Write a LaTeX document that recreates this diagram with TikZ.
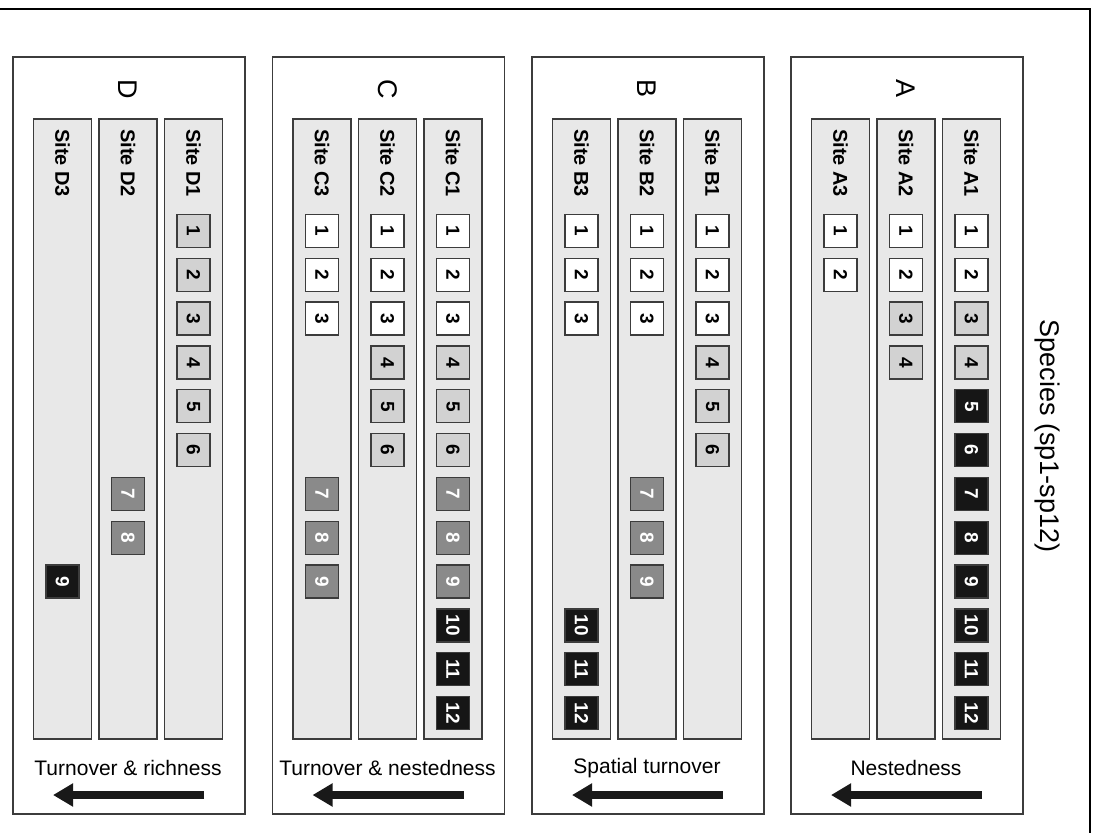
\documentclass[tikz,border=0pt]{standalone}
\usepackage{fontspec}
\setmainfont{Liberation Sans}
\usetikzlibrary{arrows.meta}
\definecolor{colfill}{HTML}{E8E8E8}
\definecolor{edgegray}{HTML}{3C3C3C}
\definecolor{lightsp}{HTML}{D2D2D2}
\definecolor{midsp}{HTML}{8A8A8A}
\definecolor{darksp}{HTML}{161616}
\newcommand\SpCol[3]{%
  \foreach \k/\s in {#3} {
    \node[\s] (#1s\k) at (#2, {231+(\k-1)*43.82}) {\k};
  }%
}
\begin{document}
\begin{tikzpicture}[x=1pt,y=-1pt,
  panelbox/.style={draw=edgegray, line width=1.5pt, fill=white, inner sep=0pt,
    minimum width=232pt, minimum height=757pt, anchor=north west},
  sitecol/.style={draw=edgegray, line width=1.5pt, fill=colfill, inner sep=0pt,
    minimum width=58pt, minimum height=620pt, anchor=north},
  sitelab/.style={rotate=-90, anchor=west, inner sep=0pt, font=\bfseries\fontsize{20}{20}\selectfont},
  panlab/.style={rotate=-90, inner sep=0pt, font=\fontsize{27}{27}\selectfont},
  boxlab/.style={inner sep=0pt, font=\fontsize{21}{21}\selectfont},
  sp/.style={draw=edgegray, line width=1.3pt, minimum size=33pt, inner sep=0pt,
    rotate=-90, font=\bfseries\fontsize{19}{19}\selectfont},
  spw/.style={sp, fill=white, text=black},
  spl/.style={sp, fill=lightsp, text=black},
  spm/.style={sp, fill=midsp, text=white},
  spk/.style={sp, fill=darksp, text=white},
  bigarrow/.style={line width=8pt, draw=black!90, -{Triangle[length=20pt,width=22pt]}}
]
\useasboundingbox (0,0) rectangle (1101,833);
% outer frame (partially visible)
\coordinate (frameTL) at (0,9);
\coordinate (frameTR) at (1090,9);
\coordinate (frameBR) at (1090,833);
\draw[line width=2pt] (frameTL) -- (frameTR) -- (frameBR);

% panels
\foreach \P/\L/\lab in {D/12/{Turnover \& richness}, C/271.5/{Turnover \& nestedness}, B/531/{Spatial turnover}, A/790/{Nestedness}} {
  \node[panelbox] (panel\P) at (\L,56) {};
  \node[panlab] (letter\P) at (\L+116,89) {\P};
  \node[sitecol] (\P3) at (\L+50.5,118) {};
  \node[sitecol] (\P2) at (\L+116,118) {};
  \node[sitecol] (\P1) at (\L+181.5,118) {};
  \node[sitelab] (lab\P3) at (\L+50.5,129) {Site \P3};
  \node[sitelab] (lab\P2) at (\L+116,129) {Site \P2};
  \node[sitelab] (lab\P1) at (\L+181.5,129) {Site \P1};
  \node[boxlab] (trend\P) at (\L+116,768) {\lab};
  \coordinate (tail\P) at (\L+192,795);
  \coordinate (head\P) at (\L+41,795);
  \draw[bigarrow] (tail\P) -- (head\P);
}

% Panel A
\SpCol{A1}{971.5}{1/spw,2/spw,3/spl,4/spl,5/spk,6/spk,7/spk,8/spk,9/spk,10/spk,11/spk,12/spk}
\SpCol{A2}{906}{1/spw,2/spw,3/spl,4/spl}
\SpCol{A3}{840.5}{1/spw,2/spw}
% Panel B
\SpCol{B1}{712.5}{1/spw,2/spw,3/spw,4/spl,5/spl,6/spl}
\SpCol{B2}{647}{1/spw,2/spw,3/spw,7/spm,8/spm,9/spm}
\SpCol{B3}{581.5}{1/spw,2/spw,3/spw,10/spk,11/spk,12/spk}
% Panel C
\SpCol{C1}{453}{1/spw,2/spw,3/spw,4/spl,5/spl,6/spl,7/spm,8/spm,9/spm,10/spk,11/spk,12/spk}
\SpCol{C2}{387.5}{1/spw,2/spw,3/spw,4/spl,5/spl,6/spl}
\SpCol{C3}{322}{1/spw,2/spw,3/spw,7/spm,8/spm,9/spm}
% Panel D
\SpCol{D1}{193.5}{1/spl,2/spl,3/spl,4/spl,5/spl,6/spl}
\SpCol{D2}{128}{7/spm,8/spm}
\SpCol{D3}{62.5}{9/spk}

% axis label
\node[rotate=-90, inner sep=0pt, font=\fontsize{27}{27}\selectfont] (species) at (1047,436) {Species (sp1-sp12)};
\end{tikzpicture}
\end{document}
